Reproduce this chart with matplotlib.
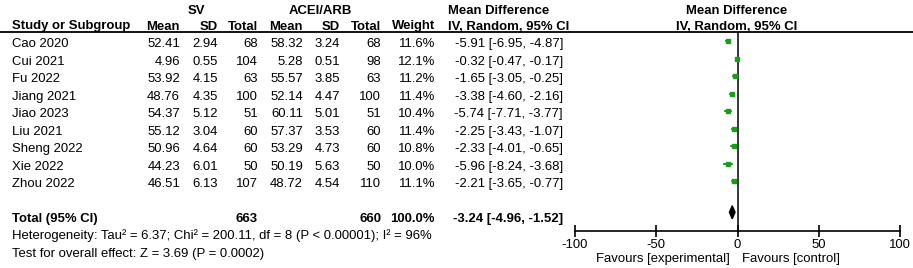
import matplotlib
matplotlib.use("Agg")
import matplotlib.pyplot as plt
from matplotlib.patches import Polygon

plt.rcParams['font.family'] = ['Liberation Sans', 'DejaVu Sans']

# ---- data ----
studies = ["Cao 2020", "Cui 2021", "Fu 2022", "Jiang 2021", "Jiao 2023",
           "Liu 2021", "Sheng 2022", "Xie 2022", "Zhou 2022"]
sv_mean = [52.41, 4.96, 53.92, 48.76, 54.37, 55.12, 50.96, 44.23, 46.51]
sv_sd = [2.94, 0.55, 4.15, 4.35, 5.12, 3.04, 4.64, 6.01, 6.13]
sv_n = [68, 104, 63, 100, 51, 60, 60, 50, 107]
ac_mean = [58.32, 5.28, 55.57, 52.14, 60.11, 57.37, 53.29, 50.19, 48.72]
ac_sd = [3.24, 0.51, 3.85, 4.47, 5.01, 3.53, 4.73, 5.63, 4.54]
ac_n = [68, 98, 63, 100, 51, 60, 60, 50, 110]
weight = [11.6, 12.1, 11.2, 11.4, 10.4, 11.4, 10.8, 10.0, 11.1]
md = [-5.91, -0.32, -1.65, -3.38, -5.74, -2.25, -2.33, -5.96, -2.21]
ci_lo = [-6.95, -0.47, -3.05, -4.60, -7.71, -3.43, -4.01, -8.24, -3.65]
ci_hi = [-4.87, -0.17, -0.25, -2.16, -3.77, -1.07, -0.65, -3.68, -0.77]
total_sv_n = 663
total_ac_n = 660
total_weight = 100.0
total_md = -3.24
total_lo = -4.96
total_hi = -1.52
heterogeneity = "Heterogeneity: Tau\u00b2 = 6.37; Chi\u00b2 = 200.11, df = 8 (P < 0.00001); I\u00b2 = 96%"
overall = "Test for overall effect: Z = 3.69 (P = 0.0002)"
xticks = [-100, -50, 0, 50, 100]

W, H = 913, 268
fig = plt.figure(figsize=(W / 100, H / 100), dpi=100)
ax = fig.add_axes([0, 0, 1, 1])
ax.set_xlim(0, W)
ax.set_ylim(H, 0)
ax.axis('off')

FS = 9.45
GREEN = '#16a016'

row0, dy = 41.0, 17.5
rows = [row0 + i * dy for i in range(len(studies))]
total_y = row0 + 9.9 * dy
off = 6.3  # baseline offset from row centre

# header
ax.text(196, 14, "SV", ha='center', va='baseline', fontsize=FS, fontweight='bold')
ax.text(320, 14, "ACEI/ARB", ha='center', va='baseline', fontsize=FS, fontweight='bold')
ax.text(448, 14, "Mean Difference", ha='left', va='baseline', fontsize=FS, fontweight='bold')
ax.text(737, 14, "Mean Difference", ha='center', va='baseline', fontsize=FS, fontweight='bold')
hy = 29.5
ax.text(12, hy, "Study or Subgroup", ha='left', va='baseline', fontsize=FS, fontweight='bold')
cols = [180, 218, 258, 303, 340, 381, 435]
for x, lab in zip(cols, ["Mean", "SD", "Total", "Mean", "SD", "Total", "Weight"]):
    ax.text(x, hy, lab, ha='right', va='baseline', fontsize=FS, fontweight='bold')
ax.text(448, hy, "IV, Random, 95% CI", ha='left', va='baseline', fontsize=FS, fontweight='bold')
ax.text(737, hy, "IV, Random, 95% CI", ha='center', va='baseline', fontsize=FS, fontweight='bold')
ax.plot([0, W], [31.5, 31.5], color='black', lw=1.3)

for i, y in enumerate(rows):
    b = y + off
    ax.text(12, b, studies[i], ha='left', va='baseline', fontsize=FS)
    vals = [f"{sv_mean[i]:.2f}", f"{sv_sd[i]:.2f}", f"{sv_n[i]}",
            f"{ac_mean[i]:.2f}", f"{ac_sd[i]:.2f}", f"{ac_n[i]}", f"{weight[i]:.1f}%"]
    for x, v in zip(cols, vals):
        ax.text(x, b, v, ha='right', va='baseline', fontsize=FS)
    ax.text(563, b, f"{md[i]:.2f} [{ci_lo[i]:.2f}, {ci_hi[i]:.2f}]",
            ha='right', va='baseline', fontsize=FS)

b = total_y + off + 1
ax.text(12, b, "Total (95% CI)", ha='left', va='baseline', fontsize=FS, fontweight='bold')
ax.text(258, b, f"{total_sv_n}", ha='right', va='baseline', fontsize=FS, fontweight='bold')
ax.text(381, b, f"{total_ac_n}", ha='right', va='baseline', fontsize=FS, fontweight='bold')
ax.text(435, b, f"{total_weight:.1f}%", ha='right', va='baseline', fontsize=FS, fontweight='bold')
ax.text(563, b, f"{total_md:.2f} [{total_lo:.2f}, {total_hi:.2f}]",
        ha='right', va='baseline', fontsize=FS, fontweight='bold')
ax.text(12, 238.5, heterogeneity, ha='left', va='baseline', fontsize=FS)
ax.text(12, 256.5, overall, ha='left', va='baseline', fontsize=FS)

# forest axes
x0, x1, ytop, ybot = 575, 900, 31.5, 231
fa = fig.add_axes([x0 / W, (H - ybot) / H, (x1 - x0) / W, (ybot - ytop) / H])
fa.set_xlim(-100, 100)
fa.set_ylim(ybot, ytop)
fa.patch.set_alpha(0)
for s in ['top', 'right', 'left']:
    fa.spines[s].set_visible(False)
fa.spines['bottom'].set_linewidth(1.2)
fa.set_yticks([])
fa.set_xticks(xticks)
fa.set_xticklabels([str(t) for t in xticks], fontsize=FS)
fa.tick_params(axis='x', direction='inout', length=8, width=1.2, pad=2)
fa.axvline(0, color='black', lw=1.1)

for i, y in enumerate(rows):
    fa.plot([ci_lo[i], ci_hi[i]], [y, y], color='#0b6e0b', lw=1.2)
    fa.plot(md[i], y, marker='s', color=GREEN, ms=3.2 * (weight[i] / 11.5) ** 0.5,
            mec=GREEN, ls='none')

dh = 6.5
ty = total_y - 2
fa.add_patch(Polygon([[total_lo, ty], [total_md, ty - dh], [total_hi, ty], [total_md, ty + dh]],
                     closed=True, color='black'))

ax.text(730, 262, "Favours [experimental]", ha='right', va='baseline', fontsize=FS)
ax.text(742, 262, "Favours [control]", ha='left', va='baseline', fontsize=FS)

fig.savefig("out.png", dpi=100)
